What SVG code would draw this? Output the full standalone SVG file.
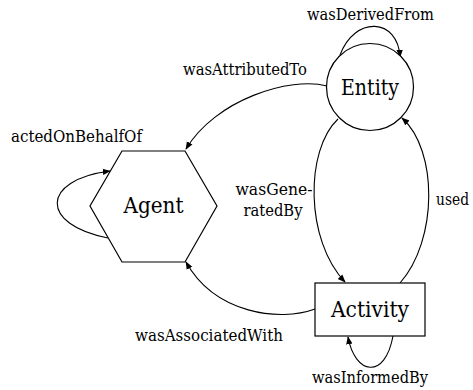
<svg xmlns="http://www.w3.org/2000/svg" width="473" height="390" viewBox="0 0 473 390">
  <style>
    .node { fill: #ffffff; stroke: #000000; stroke-width: 1.2; }
    .title { font-size: 22.5px; fill: #000000; text-anchor: middle; }
    .lbl { font-size: 17px; fill: #000000; }
    .edge { fill: none; stroke: #000000; stroke-width: 1.1; marker-end: url(#arrow); }
  </style>
  <defs>
    <marker id="arrow" viewBox="0 0 10 10" refX="9" refY="5" markerWidth="8" markerHeight="8" markerUnits="userSpaceOnUse" orient="auto">
      <path d="M0,1 L10,5 L0,9 Z" fill="#000000"/>
    </marker>
  </defs>
  <rect width="473" height="390" fill="#ffffff"/>

  <g id="connectors">
    <!-- wasDerivedFrom: Entity to itself -->
    <path class="edge" d="M340,55 C355,15 398,18 400,57"/>
    <!-- wasAttributedTo: Entity to Agent -->
    <path class="edge" d="M327,86 C290,76 215,100 186,149"/>
    <!-- actedOnBehalfOf: Agent to itself -->
    <path class="edge" d="M108,238 C40,225 40,180 110,171"/>
    <!-- wasGeneratedBy: Entity to Activity -->
    <path class="edge" d="M338,119 C305,150 305,240 345,282"/>
    <!-- used: Activity to Entity -->
    <path class="edge" d="M400,283 C438,240 438,150 402,118"/>
    <!-- wasAssociatedWith: Activity to Agent -->
    <path class="edge" d="M315,309 C280,322 215,314 186,262"/>
    <!-- wasInformedBy: Activity to itself -->
    <path class="edge" d="M393,336 C385,380 355,375 348,337"/>
  </g>

  <g font-family="'DejaVu Serif', 'Noto Serif', 'Liberation Serif', serif">
    <g id="entity">
      <circle class="node" cx="370" cy="87" r="43.5"/>
      <text class="title" x="370" y="95" textLength="58" lengthAdjust="spacingAndGlyphs">Entity</text>
    </g>

    <g id="agent">
      <polygon class="node" points="122,151 185,151 217,206 185,262 122,262 90,206"/>
      <text class="title" x="153.5" y="213" textLength="60" lengthAdjust="spacingAndGlyphs">Agent</text>
    </g>

    <g id="activity">
      <rect class="node" x="315" y="283" width="110" height="53"/>
      <text class="title" x="370" y="317" textLength="78" lengthAdjust="spacingAndGlyphs">Activity</text>
    </g>

    <g id="labels">
      <text class="lbl" x="307" y="20" textLength="127" lengthAdjust="spacingAndGlyphs">wasDerivedFrom</text>
      <text class="lbl" x="183" y="75" textLength="124" lengthAdjust="spacingAndGlyphs">wasAttributedTo</text>
      <text class="lbl" x="11" y="142" textLength="131" lengthAdjust="spacingAndGlyphs">actedOnBehalfOf</text>
      <text class="lbl" x="274" y="195" text-anchor="middle" textLength="77" lengthAdjust="spacingAndGlyphs">wasGene-</text>
      <text class="lbl" x="273" y="216" text-anchor="middle" textLength="59" lengthAdjust="spacingAndGlyphs">ratedBy</text>
      <text class="lbl" x="436" y="205" textLength="33" lengthAdjust="spacingAndGlyphs" font-size="15.5">used</text>
      <text class="lbl" x="135" y="341" textLength="148" lengthAdjust="spacingAndGlyphs">wasAssociatedWith</text>
      <text class="lbl" x="312" y="383" textLength="116" lengthAdjust="spacingAndGlyphs">wasInformedBy</text>
    </g>
  </g>
</svg>
